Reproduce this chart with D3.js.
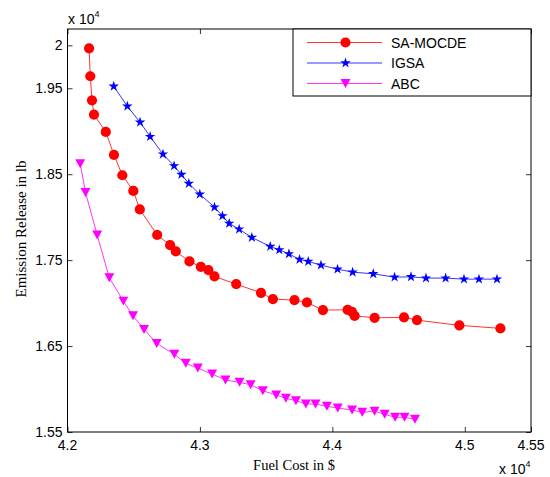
<!DOCTYPE html>
<html>
<head>
<meta charset="utf-8">
<script src="https://cdn.jsdelivr.net/npm/d3@7"></script>
<style>
  body { margin: 0; background: #fff; }
</style>
</head>
<body>
<div id="chart"></div>
<script>
// fuel cost ($) and emission (lb) of each pareto solution
const samocdeCost = [42163, 42172, 42185, 42200, 42289, 42351, 42414, 42497, 42546, 42677, 42775, 42818, 42921, 43007, 43064, 43110, 43274, 43461, 43551, 43714, 43808, 43929, 44115, 44148, 44168, 44319, 44541, 44639, 44959, 45269];
const samocdeEmission = [19965, 19640, 19360, 19194, 18992, 18724, 18488, 18306, 18090, 17794, 17674, 17601, 17485, 17422, 17384, 17310, 17221, 17120, 17047, 17035, 17008, 16919, 16922, 16899, 16852, 16829, 16834, 16802, 16741, 16706];

const igsaCost = [42349, 42452, 42548, 42624, 42721, 42805, 42860, 42916, 42999, 43110, 43170, 43221, 43296, 43392, 43531, 43599, 43672, 43752, 43818, 43914, 44039, 44153, 44309, 44470, 44594, 44707, 44855, 44994, 45107, 45243];
const igsaEmission = [19523, 19291, 19105, 18938, 18733, 18597, 18497, 18392, 18267, 18116, 18015, 17927, 17860, 17764, 17659, 17620, 17573, 17508, 17485, 17442, 17395, 17360, 17341, 17302, 17306, 17291, 17291, 17279, 17279, 17279];

const abcCost = [42096, 42136, 42224, 42316, 42422, 42495, 42578, 42674, 42807, 42893, 42984, 43092, 43193, 43299, 43383, 43475, 43576, 43649, 43725, 43800, 43873, 43959, 44041, 44149, 44226, 44319, 44395, 44474, 44545, 44624];
const abcEmission = [18622, 18288, 17793, 17294, 17023, 16852, 16694, 16531, 16404, 16299, 16244, 16174, 16105, 16078, 16049, 15980, 15930, 15892, 15864, 15826, 15826, 15799, 15779, 15756, 15729, 15741, 15706, 15671, 15671, 15648];

const seriesNames = ["SA-MOCDE", "IGSA", "ABC"];
const xTicks = [42000, 43000, 44000, 45000, 45500];
const xTickLabels = ["4.2", "4.3", "4.4", "4.5", "4.55"];
const yTicks = [15500, 16500, 17500, 18500, 19500, 20000];
const yTickLabels = ["1.55", "1.65", "1.75", "1.85", "1.95", "2"];

const width = 550, height = 477;
const plotLeft = 67.5, plotRight = 531, plotTop = 29, plotBottom = 432;

const svg = d3.select("#chart")
  .append("svg")
  .attr("width", width)
  .attr("height", height);

const xScale = d3.scaleLinear()
  .domain([42000, 45500])
  .range([plotLeft, plotRight]);

const yScale = d3.scaleLinear()
  .domain([15500, 20190])
  .range([plotBottom, plotTop]);

// MATLAB 'v' marker, centred on its box
const triangleDown = {
  draw(context, size) {
    const w = Math.sqrt(size) * 0.78, h = Math.sqrt(size) * 0.7;
    context.moveTo(-w, -h);
    context.lineTo(w, -h);
    context.lineTo(0, h);
    context.closePath();
  }
};

const series = [
  { name: seriesNames[0], cost: samocdeCost, emission: samocdeEmission, color: "#ff0000", symbol: d3.symbolCircle, size: 82 },
  { name: seriesNames[1], cost: igsaCost, emission: igsaEmission, color: "#0000ff", symbol: d3.symbolStar, size: 34 },
  { name: seriesNames[2], cost: abcCost, emission: abcEmission, color: "#ff00ff", symbol: triangleDown, size: 41 }
];

// axes box with inward ticks
const axisFont = "'Liberation Sans', Arial, sans-serif";
const labelFont = "'Liberation Serif', 'Times New Roman', serif";

svg.append("g")
  .attr("transform", `translate(0, ${plotBottom})`)
  .call(d3.axisTop(xScale).tickValues(xTicks).tickSize(5).tickFormat(""))
  .call(g => g.select(".domain").remove());

svg.append("g")
  .attr("transform", `translate(0, ${plotTop})`)
  .call(d3.axisBottom(xScale).tickValues(xTicks).tickSize(5).tickFormat(""))
  .call(g => g.select(".domain").remove());

svg.append("g")
  .attr("transform", `translate(${plotLeft}, 0)`)
  .call(d3.axisRight(yScale).tickValues(yTicks).tickSize(5).tickFormat(""))
  .call(g => g.select(".domain").remove());

svg.append("g")
  .attr("transform", `translate(${plotRight}, 0)`)
  .call(d3.axisLeft(yScale).tickValues(yTicks).tickSize(5).tickFormat(""))
  .call(g => g.select(".domain").remove());

svg.selectAll(".tick line")
  .attr("stroke", "#000")
  .attr("stroke-width", 0.8);

svg.append("g")
  .selectAll("text")
  .data(xTicks)
  .join("text")
  .attr("x", d => xScale(d))
  .attr("y", plotBottom + 18)
  .attr("text-anchor", "middle")
  .style("font-family", axisFont)
  .style("font-size", "14px")
  .text((d, i) => xTickLabels[i]);

svg.append("g")
  .selectAll("text")
  .data(yTicks)
  .join("text")
  .attr("x", plotLeft - 5)
  .attr("y", d => yScale(d) + 5)
  .attr("text-anchor", "end")
  .style("font-family", axisFont)
  .style("font-size", "14px")
  .text((d, i) => yTickLabels[i]);

// exponent labels
const expTop = svg.append("text")
  .attr("x", 68)
  .attr("y", 24)
  .style("font-family", axisFont)
  .style("font-size", "14px");
expTop.append("tspan").text("x 10");
expTop.append("tspan").attr("dy", -7).style("font-size", "9px").text("4");

const expBottom = svg.append("text")
  .attr("x", 499)
  .attr("y", 474)
  .style("font-family", axisFont)
  .style("font-size", "14px");
expBottom.append("tspan").text("x 10");
expBottom.append("tspan").attr("dy", -7).style("font-size", "9px").text("4");

// axis titles
svg.append("text")
  .attr("x", 294)
  .attr("y", 470)
  .attr("text-anchor", "middle")
  .style("font-family", labelFont)
  .style("font-size", "14.5px")
  .text("Fuel Cost in $");

svg.append("text")
  .attr("transform", "translate(26, 229) rotate(-90)")
  .attr("text-anchor", "middle")
  .style("font-family", labelFont)
  .style("font-size", "15px")
  .text("Emission Release in lb");

// series
const line = d3.line()
  .x(d => xScale(d[0]))
  .y(d => yScale(d[1]));

series.forEach(s => {
  const pts = s.cost.map((c, i) => [c, s.emission[i]]);
  const g = svg.append("g");
  g.append("path")
    .datum(pts)
    .attr("d", line)
    .attr("fill", "none")
    .attr("stroke", s.color)
    .attr("stroke-width", 0.8);
  g.selectAll("path.marker")
    .data(pts)
    .join("path")
    .attr("class", "marker")
    .attr("transform", d => `translate(${xScale(d[0])}, ${yScale(d[1])})`)
    .attr("d", d3.symbol().type(s.symbol).size(s.size))
    .attr("fill", s.color);
});

// plot frame
svg.append("rect")
  .attr("x", plotLeft)
  .attr("y", plotTop)
  .attr("width", plotRight - plotLeft)
  .attr("height", plotBottom - plotTop)
  .attr("fill", "none")
  .attr("stroke", "#000")
  .attr("stroke-width", 1);

// legend
const legend = svg.append("g");
legend.append("rect")
  .attr("x", 293)
  .attr("y", plotTop)
  .attr("width", plotRight - 293)
  .attr("height", 67)
  .attr("fill", "#fff")
  .attr("stroke", "#000")
  .attr("stroke-width", 1);

const legendRow = legend.selectAll("g")
  .data(series)
  .join("g")
  .attr("transform", (d, i) => `translate(0, ${42.5 + i * 20.5})`);

legendRow.append("line")
  .attr("x1", 307)
  .attr("x2", 382)
  .attr("stroke", d => d.color)
  .attr("stroke-width", 0.8);

legendRow.append("path")
  .attr("transform", "translate(345.5, 0)")
  .attr("d", d => d3.symbol().type(d.symbol).size(d.size)())
  .attr("fill", d => d.color);

legendRow.append("text")
  .text(d => d.name)
  .attr("x", 391)
  .attr("y", 5)
  .style("font-family", axisFont)
  .style("font-size", "14px");
</script>
</body>
</html>
